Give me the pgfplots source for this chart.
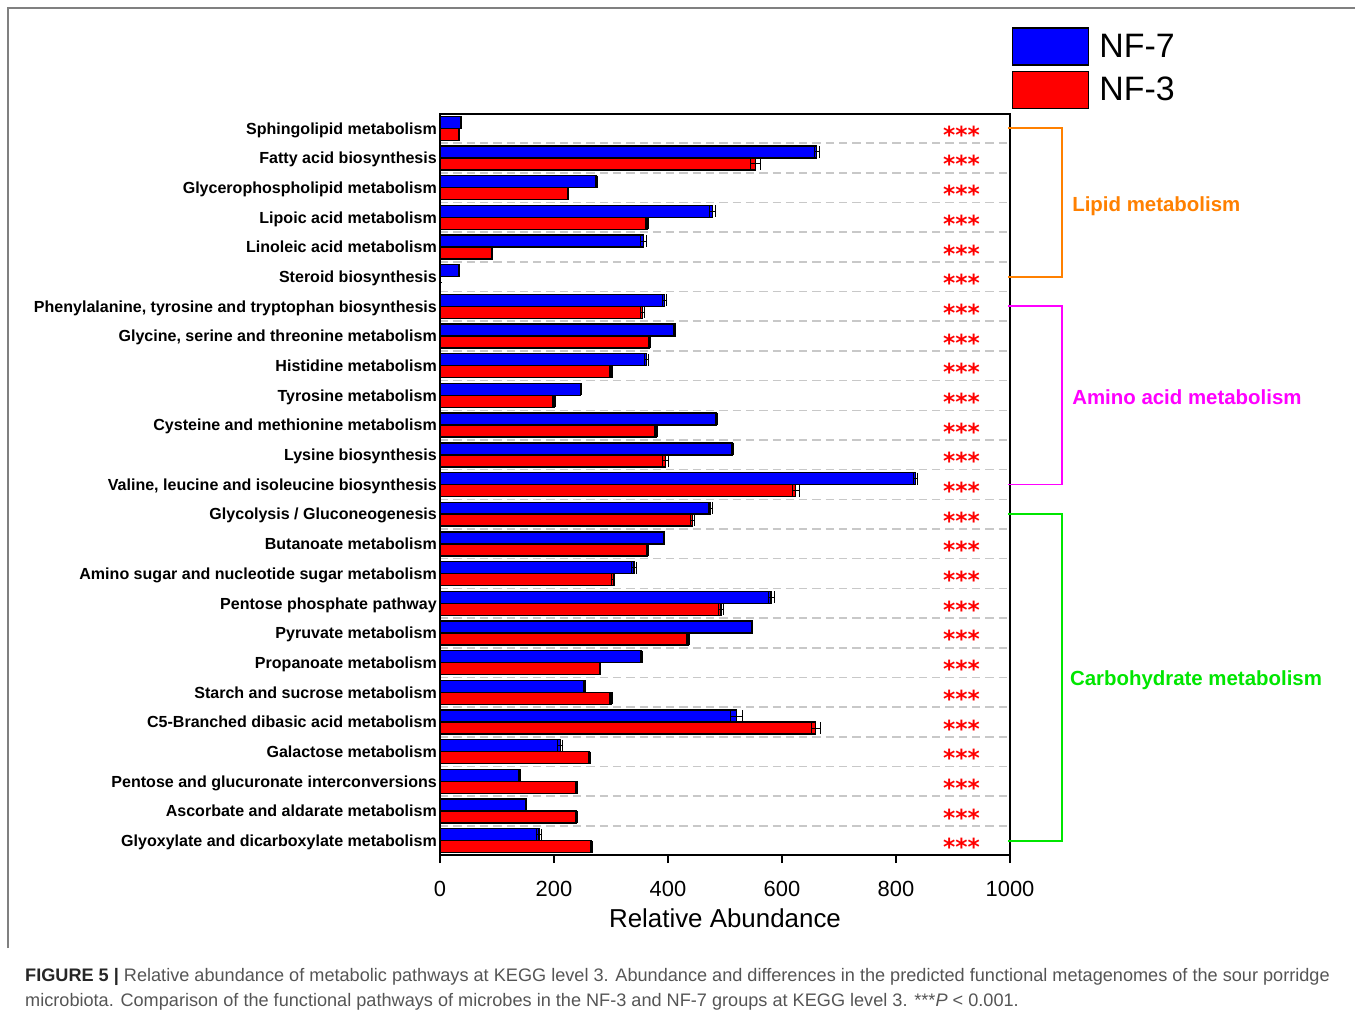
\documentclass[border=0pt]{standalone}
\usepackage{pgfplots}
\pgfplotsset{compat=1.18}
\usepackage{pgfplotstable}
\usepackage{fontspec}
\setmainfont{Liberation Sans}
\newfontfamily\starfont{DejaVu Sans Bold}
\definecolor{lipid}{RGB}{255,128,0}
\definecolor{amino}{RGB}{255,0,255}
\definecolor{carb}{RGB}{0,230,0}
\definecolor{gridgray}{RGB}{200,200,200}
\definecolor{capgray}{RGB}{85,85,85}

% y: row position (24 = top row), blue = NF-7, red = NF-3, e = error, s = position of significance stars
\pgfplotstableread{
y blue bluee red rede s
24 37 1 33 1 915
23 661 4 553 9 915
22 274 1.5 224 1 915
21 478 5 363 2 915
20 357 5 91 1 915
19 33 1 1 0.5 915
18 394 3 355 3 915
17 412 1.5 367 1.5 915
16 362 3 300 2 915
15 247 1 200 2 915
14 485 1 379 2 915
13 513 2 396 5 915
12 834 4 624 6 915
11 474 3.5 443 4 915
10 393 1.5 364 1 915
9 340 4 304 3 915
8 581 5 493 5 915
7 548 1 435 3 915
6 353 2 281 1 915
5 254 1.5 300 2 915
4 520 10 659 8 915
3 211 4 262 2 915
2 140 1.5 240 1.5 915
1 151 1 239 2 915
0 174 4 266 2 915
}\data

\begin{document}
\begin{tikzpicture}
\useasboundingbox (0,0) rectangle (1355bp,-1017bp);
\draw[gray, line width=1.5bp] (8bp,-948bp) -- (8bp,-8bp) -- (1356bp,-8bp);
\begin{axis}[
  at={(440bp,-855bp)}, anchor=south west,
  width=570bp, height=741bp, scale only axis,
  xmin=0, xmax=1000, ymin=-0.48, ymax=24.48,
  clip=false,
  axis line style={line width=1.6bp, black},
  xtick={0,200,400,600,800,1000},
  xticklabels={0,200,400,600,800,1000},
  xtick pos=bottom, ytick pos=left,
  tick align=outside,
  major tick length=8bp,
  xtick style={line width=1.6bp, black},
  ytick style={draw=none},
  xticklabel style={font=\fontsize{22}{22}\selectfont, anchor=base, yshift=-33bp, inner sep=0pt},
  ytick={0,...,24},
  yticklabels={
    Glyoxylate and dicarboxylate metabolism,
    Ascorbate and aldarate metabolism,
    Pentose and glucuronate interconversions,
    Galactose metabolism,
    C5-Branched dibasic acid metabolism,
    Starch and sucrose metabolism,
    Propanoate metabolism,
    Pyruvate metabolism,
    Pentose phosphate pathway,
    Amino sugar and nucleotide sugar metabolism,
    Butanoate metabolism,
    Glycolysis / Gluconeogenesis,
    {Valine, leucine and isoleucine biosynthesis},
    Lysine biosynthesis,
    Cysteine and methionine metabolism,
    Tyrosine metabolism,
    Histidine metabolism,
    {Glycine, serine and threonine metabolism},
    {Phenylalanine, tyrosine and tryptophan biosynthesis},
    Steroid biosynthesis,
    Linoleic acid metabolism,
    Lipoic acid metabolism,
    Glycerophospholipid metabolism,
    Fatty acid biosynthesis,
    Sphingolipid metabolism},
  yticklabel style={font=\bfseries\fontsize{16.1}{16.1}\selectfont, anchor=base east, inner sep=0pt, xshift=5bp, yshift=-5.8bp},
  minor ytick={0.5,1.5,...,23.5},
  minor tick length=0pt,
  yminorgrids=true,
  minor grid style={gridgray, line width=1.5bp, dash pattern=on 8.3bp off 5bp},
  xlabel={Relative Abundance},
  xlabel style={at={(axis description cs:0.5,0)}, anchor=base, yshift=-72bp, inner sep=0pt, font=\fontsize{26}{26}\selectfont},
  legend style={draw=none, fill=none, at={(1.0035,1.117)}, anchor=north west,
    inner sep=0pt, outer sep=0pt, row sep=5bp, column sep=10bp,
    font=\fontsize{34}{34}\selectfont, nodes={inner sep=0pt}},
  legend cell align=left,
]
\addplot[xbar, bar width=0.404, bar shift=0pt, fill=blue, draw=black, line width=1.4bp,
  legend image code/.code={\draw[fill=blue, draw=black, line width=1.4bp] (0bp,-18.5bp) rectangle (76bp,18.5bp);},
  error bars/.cd, x dir=both, x explicit,
  error bar style={line width=1bp, black},
  error mark options={rotate=90, mark size=6bp, line width=1bp, black}]
  table[x=blue, y expr=\thisrow{y}+0.202, x error=bluee] {\data};
\addlegendentry{NF-7}
\addplot[xbar, bar width=0.404, bar shift=0pt, fill=red, draw=black, line width=1.4bp,
  legend image code/.code={\draw[fill=red, draw=black, line width=1.4bp] (0bp,-18.5bp) rectangle (76bp,18.5bp);},
  error bars/.cd, x dir=both, x explicit,
  error bar style={line width=1bp, black},
  error mark options={rotate=90, mark size=6bp, line width=1bp, black}]
  table[x=red, y expr=\thisrow{y}-0.202, x error=rede] {\data};
\addlegendentry{NF-3}
\addplot[forget plot, draw=none, mark=none, nodes near coords={\smash{***}},
  every node near coord/.append style={anchor=base, text=red, inner sep=0pt,
    font=\starfont\fontsize{23.5}{23.5}\selectfont, yshift=-15bp}]
  table[x=s, y=y] {\data};
% group brackets
\draw[lipid, line width=1.8bp] (axis cs:997,24) -- (axis cs:1091,24) -- (axis cs:1091,19) -- (axis cs:997,19);
\draw[amino, line width=1.8bp] (axis cs:997,18) -- (axis cs:1091,18) -- (axis cs:1091,12) -- (axis cs:997,12);
\draw[carb, line width=1.8bp] (axis cs:997,11) -- (axis cs:1091,11) -- (axis cs:1091,0) -- (axis cs:997,0);
\node[anchor=base west, inner sep=0pt, text=lipid, font=\bfseries\fontsize{20.5}{20.5}\selectfont, yshift=-9.3bp] at (axis cs:1109,21.5) {Lipid metabolism};
\node[anchor=base west, inner sep=0pt, text=amino, font=\bfseries\fontsize{20.5}{20.5}\selectfont, yshift=-9.3bp] at (axis cs:1109,15) {Amino acid metabolism};
\node[anchor=base west, inner sep=0pt, text=carb, font=\bfseries\fontsize{20.5}{20.5}\selectfont, yshift=-8.3bp] at (axis cs:1105,5.5) {Carbohydrate metabolism};
\end{axis}
\node[anchor=base west, inner sep=0pt, text=capgray, font=\fontsize{18.2}{18.2}\selectfont] at (25bp,-981bp)
  {{\bfseries\color{black!85}FIGURE 5 |} Relative abundance of metabolic pathways at KEGG level 3. Abundance and differences in the predicted functional metagenomes of the sour porridge};
\node[anchor=base west, inner sep=0pt, text=capgray, font=\fontsize{18.2}{18.2}\selectfont] at (25bp,-1006bp)
  {microbiota. Comparison of the functional pathways of microbes in the NF-3 and NF-7 groups at KEGG level 3. ***\textit{P} < 0.001.};
\end{tikzpicture}
\end{document}
